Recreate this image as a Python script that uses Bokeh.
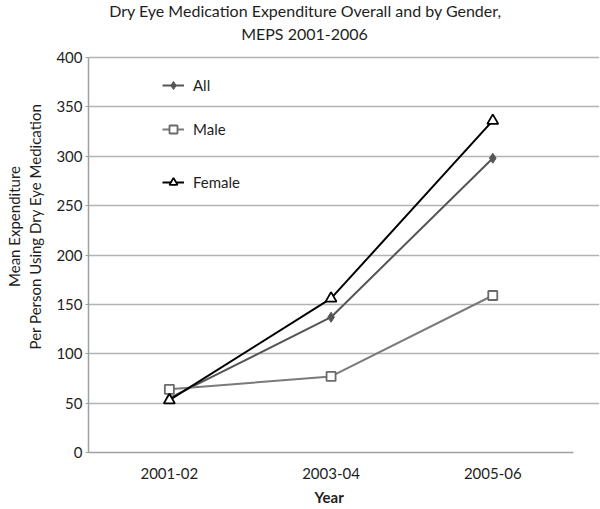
from bokeh.plotting import figure
from bokeh.models import Range1d, FixedTicker, Legend, LegendItem, Title, Label
from bokeh.embed import file_html
from bokeh.resources import INLINE

categories = ["2001-02", "2003-04", "2005-06"]
all_vals = [55, 137, 298]
male_vals = [64, 77, 159]
female_vals = [53, 156, 336]
y_ticks = [0, 50, 100, 150, 200, 250, 300, 350, 400]
title_lines = ["Dry Eye Medication Expenditure Overall and by Gender,", "MEPS 2001-2006"]

FONT = "Lato"
TXT = "#1e1e1e"
xs = list(range(len(categories)))

# frame spans from the top of the canvas; value 400 sits 57px below the top
p = figure(frame_width=511, frame_height=452, output_backend="svg", toolbar_location=None,
           x_range=Range1d(-0.5, 2.66), y_range=Range1d(0, 400 + 57 * 400 / 395),
           min_border_left=88, min_border_right=1, min_border_top=0, min_border_bottom=57)
p.outline_line_color = None
p.background_fill_color = "white"
p.border_fill_color = "white"

# axes
p.xaxis.ticker = FixedTicker(ticks=xs)
p.xaxis.major_label_overrides = {i: c for i, c in enumerate(categories)}
p.xaxis.bounds = (-0.5, 2.5)
p.xaxis.major_tick_line_color = None
p.xaxis.minor_tick_line_color = None
p.xaxis.axis_line_color = "#a0a0a0"
p.xaxis.axis_line_width = 1.5
p.xaxis.major_label_text_font = FONT
p.xaxis.major_label_text_font_size = "15px"
p.xaxis.major_label_text_color = TXT
p.xaxis.major_label_standoff = 9

p.yaxis.ticker = FixedTicker(ticks=y_ticks)
p.yaxis.bounds = (0, 400)
p.yaxis.axis_label = "Mean Expenditure\nPer Person Using Dry Eye Medication"
p.yaxis.axis_label_text_font = FONT
p.yaxis.axis_label_text_font_style = "normal"
p.yaxis.axis_label_text_font_size = "15px"
p.yaxis.axis_label_text_color = TXT
p.yaxis.axis_label_standoff = 9
p.yaxis.axis_line_color = "#a0a0a0"
p.yaxis.axis_line_width = 1.5
p.yaxis.major_tick_line_color = "#a0a0a0"
p.yaxis.major_tick_out = 3
p.yaxis.major_tick_in = 0
p.yaxis.minor_tick_line_color = None
p.yaxis.major_label_text_font = FONT
p.yaxis.major_label_text_font_size = "15px"
p.yaxis.major_label_text_color = TXT
p.yaxis.major_label_standoff = 3

p.xgrid.grid_line_color = None
p.ygrid.grid_line_color = "#b3b3b3"
p.ygrid.grid_line_width = 1.5
p.ygrid.cross_bounds = (-0.5, 2.66)

# chart title, drawn in the empty band above the value 400
p.add_layout(Label(x=217, y=442, x_units="screen", y_units="screen", text=title_lines[0],
                   text_align="center", text_baseline="alphabetic", text_font=FONT,
                   text_font_size="16px", text_color=TXT))
p.add_layout(Label(x=216, y=419, x_units="screen", y_units="screen", text=title_lines[1],
                   text_align="center", text_baseline="alphabetic", text_font=FONT,
                   text_font_size="16px", text_color=TXT))

# x axis title
ty = Title(text="Year", align="left", offset=226, standoff=8, vertical_align="bottom",
           text_font=FONT, text_font_size="15px", text_font_style="bold", text_color=TXT)
p.add_layout(ty, "below")

# series
r_all_l = p.line(xs, all_vals, line_color="#555555", line_width=2)
r_all_m = p.scatter(xs, all_vals, marker="diamond", size=10, fill_color="#555555",
                    line_color="#555555")
r_male_l = p.line(xs, male_vals, line_color="#7a7a7a", line_width=2)
r_male_m = p.scatter(xs, male_vals, marker="square", size=9, fill_color="white",
                     line_color="#6a6a6a", line_width=1.8)
r_fem_l = p.line(xs, female_vals, line_color="#000000", line_width=2)
r_fem_m = p.scatter(xs, female_vals, marker="triangle", size=11, fill_color="white",
                    line_color="#000000", line_width=1.8)

def make_legend(label, renderers, y):
    lg = Legend(items=[LegendItem(label=label, renderers=renderers)], location=(74, y),
                background_fill_alpha=0, border_line_alpha=0, padding=0, margin=0,
                glyph_width=22, glyph_height=20, label_height=20, label_standoff=9,
                label_text_font=FONT, label_text_font_size="15px", label_text_color=TXT)
    p.add_layout(lg, "center")

make_legend("All", [r_all_l, r_all_m], 357)
make_legend("Male", [r_male_l, r_male_m], 313)
make_legend("Female", [r_fem_l, r_fem_m], 260)

open("out.html", "w").write(file_html(p, INLINE))
